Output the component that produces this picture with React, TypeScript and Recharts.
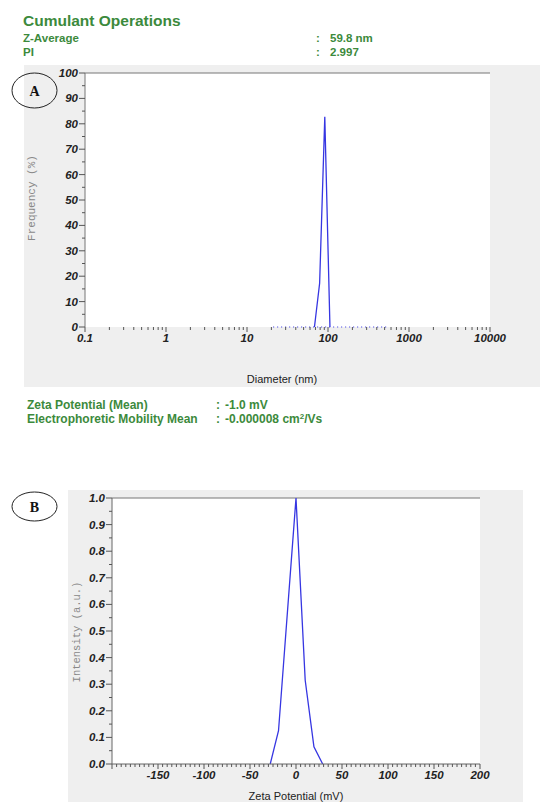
import React from "react";
import { LineChart, Line, XAxis, YAxis, CartesianGrid, ReferenceLine } from "recharts";

// size distribution (A)
const SIZE_NM = [68.06, 78.82, 91.28, 105.7];
const SIZE_FREQ = [0, 17.2, 82.8, 0];
const SIZE_ZERO_NM = [21.04, 531.2];
const SIZE_ZERO_FREQ = [0, 0];
const DIAMETER_LABELS = [0.1, 1, 10, 100, 1000, 10000];
const FREQ_TICKS = [0, 5, 10, 15, 20, 25, 30, 35, 40, 45, 50, 55, 60, 65, 70, 75, 80, 85, 90, 95, 100];

// zeta potential (B)
const ZETA_MV = [-28, -19, 0, 10, 19.5, 29];
const ZETA_INT = [0, 0.125, 1.0, 0.315, 0.065, 0];
const ZETA_LABELS = [-150, -100, -50, 0, 50, 100, 150, 200];
const INT_TICKS = [0, 0.05, 0.1, 0.15, 0.2, 0.25, 0.3, 0.35, 0.4, 0.45, 0.5, 0.55, 0.6, 0.65, 0.7, 0.75, 0.8, 0.85, 0.9, 0.95, 1.0];

const sizeData = SIZE_NM.map((x, i) => ({ x, y: SIZE_FREQ[i] }));
const sizeZero = SIZE_ZERO_NM.map((x, i) => ({ x, y: SIZE_ZERO_FREQ[i] }));
const zetaData = ZETA_MV.map((x, i) => ({ x, y: ZETA_INT[i] }));

const diameterTicks: number[] = [];
DIAMETER_LABELS.slice(0, -1).forEach((d) => {
  for (let m = 1; m < 10; m++) diameterTicks.push(d * m);
});
diameterTicks.push(10000);

const zetaTicks: number[] = [];
for (let v = -200; v <= 200; v += 5) zetaTicks.push(v);

const GREEN = "#3c8a3c";
const BLUE = "#3636e2";
const SANS = "'Liberation Sans', Arial, sans-serif";
const MONO = "'Liberation Mono', 'Courier New', monospace";

const tickFont = {
  fontFamily: SANS,
  fontWeight: 700,
  fontStyle: "italic" as const,
  fontSize: 11.5,
  fill: "#222",
};

const isMajorLog = (v: number) => DIAMETER_LABELS.some((d) => Math.abs(d - v) / d < 1e-6);

const diamTick = (p: any) => {
  const { x, y, payload } = p;
  const major = isMajorLog(payload.value);
  return (
    <g>
      <line x1={x} x2={x} y1={y} y2={y + (major ? 5 : 3)} stroke="#555" />
      {major && (
        <text x={x} y={y + 15} textAnchor="middle" {...tickFont}>
          {String(Number(payload.value.toPrecision(3)))}
        </text>
      )}
    </g>
  );
};

const freqLeftTick = (p: any) => {
  const { x, y, payload } = p;
  const major = payload.value % 10 === 0;
  return (
    <g>
      <line x1={x - (major ? 6 : 3)} x2={x} y1={y} y2={y} stroke="#555" />
      {major && (
        <text x={x - 7} y={y + 4} textAnchor="end" {...tickFont}>
          {payload.value}
        </text>
      )}
    </g>
  );
};

const freqRightTick = (p: any) => {
  const { x, y, payload } = p;
  const major = payload.value % 10 === 0;
  return (
    <g>
      <line x1={x} x2={x + (major ? 6 : 3)} y1={y} y2={y} stroke="#555" />
      {major && payload.value > 0 && (
        <text x={x + 6} y={y + 4} textAnchor="start" {...tickFont}>
          {payload.value}
        </text>
      )}
    </g>
  );
};

const intTick = (p: any) => {
  const { x, y, payload } = p;
  const major = Math.round(payload.value * 20) % 2 === 0;
  return (
    <g>
      <line x1={x - (major ? 6 : 3)} x2={x} y1={y} y2={y} stroke="#555" />
      {major && (
        <text x={x - 7} y={y + 4} textAnchor="end" {...tickFont}>
          {payload.value.toFixed(1)}
        </text>
      )}
    </g>
  );
};

const zetaTick = (p: any) => {
  const { x, y, payload } = p;
  const major = payload.value % 50 === 0;
  const labelled = ZETA_LABELS.includes(payload.value);
  return (
    <g>
      <line x1={x} x2={x} y1={y} y2={y + (major ? 5 : 3)} stroke="#555" />
      {labelled && (
        <text x={x} y={y + 15} textAnchor="middle" {...tickFont}>
          {payload.value}
        </text>
      )}
    </g>
  );
};

export default function App() {
  return (
    <div
      style={{
        position: "absolute",
        left: 0,
        top: 0,
        width: 540,
        height: 802,
        overflow: "hidden",
        background: "#fff",
      }}
    >
      {/* grey panels */}
      <div style={{ position: "absolute", left: 24, top: 65, width: 516, height: 322, background: "#efefef" }} />
      <div style={{ position: "absolute", left: 68, top: 490, width: 455, height: 312, background: "#efefef" }} />

      <div style={{ position: "absolute", left: 0, top: 60 }}>
        <LineChart width={540} height={300} margin={{ top: 13, right: 10, bottom: 3, left: 0 }}>
          <CartesianGrid horizontal={false} vertical={false} fill="#fff" yAxisId="left" />
          <XAxis
            type="number"
            dataKey="x"
            scale="log"
            domain={[0.1, 10000]}
            ticks={diameterTicks}
            interval={0}
            height={30}
            axisLine={false}
            tickLine={false}
            tickSize={0}
            tickMargin={0}
            tick={diamTick}
            allowDataOverflow
          />
          <YAxis
            yAxisId="left"
            type="number"
            domain={[0, 100]}
            ticks={FREQ_TICKS}
            interval={0}
            width={85}
            axisLine={{ stroke: "#777" }}
            tickLine={false}
            tickSize={0}
            tickMargin={0}
            tick={freqLeftTick}
          />
          <YAxis
            yAxisId="right"
            orientation="right"
            type="number"
            domain={[0, 100]}
            ticks={FREQ_TICKS}
            interval={0}
            width={40}
            axisLine={false}
            tickLine={false}
            tickSize={0}
            tickMargin={0}
            tick={freqRightTick}
          />
          <ReferenceLine yAxisId="left" y={100} stroke="#777" />
          <Line
            yAxisId="left"
            data={sizeZero}
            dataKey="y"
            stroke={BLUE}
            strokeDasharray="1 3"
            strokeWidth={1}
            dot={false}
            isAnimationActive={false}
          />
          <Line
            yAxisId="left"
            data={sizeData}
            dataKey="y"
            stroke={BLUE}
            strokeWidth={1.3}
            dot={false}
            isAnimationActive={false}
          />
        </LineChart>
      </div>

      <div style={{ position: "absolute", left: 0, top: 485 }}>
        <LineChart width={540} height={317} margin={{ top: 13, right: 60, bottom: 0, left: 0 }}>
          <CartesianGrid horizontal={false} vertical={false} fill="#fff" />
          <XAxis
            type="number"
            dataKey="x"
            domain={[-200, 200]}
            ticks={zetaTicks}
            interval={0}
            height={38}
            axisLine={{ stroke: "#666" }}
            tickLine={false}
            tickSize={0}
            tickMargin={0}
            tick={zetaTick}
            allowDataOverflow
          />
          <YAxis
            type="number"
            domain={[0, 1]}
            ticks={INT_TICKS}
            interval={0}
            width={112}
            axisLine={{ stroke: "#666" }}
            tickLine={false}
            tickSize={0}
            tickMargin={0}
            tick={intTick}
          />
          <ReferenceLine y={1} stroke="#777" />
          <Line
            data={zetaData}
            dataKey="y"
            stroke={BLUE}
            strokeWidth={1.3}
            dot={false}
            isAnimationActive={false}
          />
        </LineChart>
      </div>

      {/* texts and labels */}
      <svg
        width={540}
        height={802}
        style={{ position: "absolute", left: 0, top: 0, pointerEvents: "none" }}
      >
        <g fontFamily={SANS} fontWeight={700} fill={GREEN}>
          <text x={23} y={26} fontSize={15.5}>Cumulant Operations</text>
          <text x={23} y={42} fontSize={11.5}>Z-Average</text>
          <text x={316} y={42} fontSize={11.5}>:</text>
          <text x={330} y={42} fontSize={11.5}>59.8 nm</text>
          <text x={23} y={55.5} fontSize={11.5}>PI</text>
          <text x={316} y={55.5} fontSize={11.5}>:</text>
          <text x={330} y={55.5} fontSize={11.5}>2.997</text>

          <text x={27} y={409} fontSize={12}>Zeta Potential (Mean)</text>
          <text x={216} y={409} fontSize={12}>:</text>
          <text x={225} y={409} fontSize={12}>-1.0 mV</text>
          <text x={27} y={423} fontSize={12}>Electrophoretic Mobility Mean</text>
          <text x={216} y={423} fontSize={12}>:</text>
          <text x={225} y={423} fontSize={12}>
            -0.000008 cm
            <tspan fontSize={8} dy={-4}>2</tspan>
            <tspan dy={4}>/Vs</tspan>
          </text>
        </g>

        <text x={282} y={383} textAnchor="middle" fontFamily={SANS} fontSize={11} fill="#222">
          Diameter (nm)
        </text>
        <text x={296} y={800} textAnchor="middle" fontFamily={SANS} fontSize={11} fill="#222">
          Zeta Potential (mV)
        </text>

        <text
          transform="translate(35,198) rotate(-90)"
          textAnchor="middle"
          fontFamily={MONO}
          fontSize={11}
          fill="#888"
        >
          Frequency (%)
        </text>
        <text
          transform="translate(80,632) rotate(-90)"
          textAnchor="middle"
          fontFamily={MONO}
          fontSize={10.5}
          fill="#888"
        >
          Intensity (a.u.)
        </text>

        <ellipse cx={34.5} cy={90.5} rx={22.5} ry={17.5} fill="none" stroke="#222" strokeWidth={1} />
        <text x={34.5} y={95.5} textAnchor="middle" fontFamily="'Liberation Serif', serif" fontWeight={700} fontSize={14} fill="#111">
          A
        </text>
        <ellipse cx={34.5} cy={506.5} rx={22.5} ry={14.5} fill="none" stroke="#222" strokeWidth={1} />
        <text x={34.5} y={511.5} textAnchor="middle" fontFamily="'Liberation Serif', serif" fontWeight={700} fontSize={14} fill="#111">
          B
        </text>
      </svg>
    </div>
  );
}
